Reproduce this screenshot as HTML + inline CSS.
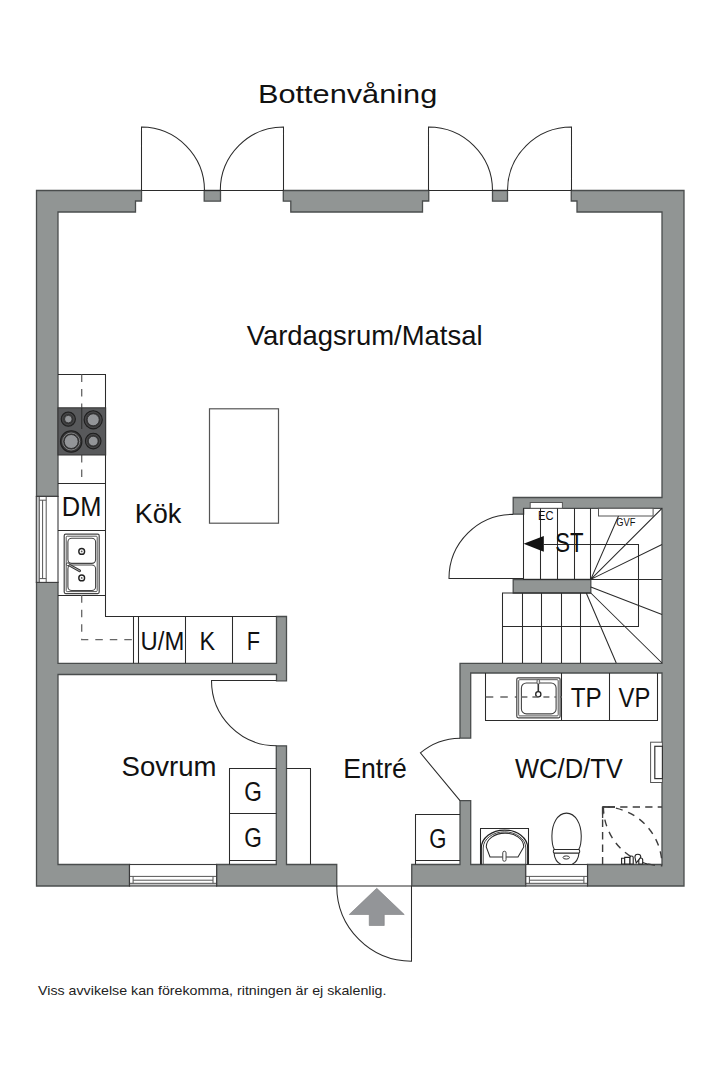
<!DOCTYPE html>
<html><head><meta charset="utf-8">
<style>
html,body{margin:0;padding:0;background:#fff;width:720px;height:1080px;overflow:hidden}
svg{display:block;font-family:"Liberation Sans",sans-serif}
.w{fill:#919594;stroke:#4a4d4d;stroke-width:1.3;stroke-linejoin:miter}
.l{fill:none;stroke:#2b2b2b;stroke-width:1.05}
.lt{fill:none;stroke:#555;stroke-width:1}
.f{fill:#fff;stroke:#3a3a3b;stroke-width:1}
.d{fill:none;stroke:#666;stroke-width:1.3;stroke-dasharray:7.5 7}
.t{fill:#111}
</style></head>
<body>
<svg width="720" height="1080" viewBox="0 0 720 1080">
<!-- TITLE -->
<text class="t" x="257.90" y="102.8" font-size="26.7" textLength="179.40" lengthAdjust="spacingAndGlyphs">Bottenvåning</text>

<!-- WALLS -->
<g id="walls">
<path class="w" d="M36.5,190.5 H141.5 V201 H135.5 V212 H58 V496.3 H36.5 Z"/>
<path class="w" d="M204.2,190.5 H220.5 V201.2 H204.2 Z"/>
<path class="w" d="M283.3,190.5 H428.75 V201 H422.5 V212 H290.8 V201.2 H283.3 Z"/>
<path class="w" d="M492.5,190.5 H507.5 V201.2 H492.5 Z"/>
<path class="w" d="M571.25,190.5 H684 V886 H587.5 V864.5 H662 V673 H470.7 V738.2 H460 V663.3 H662 V508.3 H523.6 V514.2 H513.2 V497.5 H662 V212 H577 V201 H571.25 Z"/>
<path class="w" d="M411.75,864.5 H460 V800.7 H470.7 V864.5 H525.6 V886 H411.75 Z"/>
<path class="w" d="M36.5,582.4 H58 V663.3 H276.5 V616.5 H286.5 V680.8 H276.5 V674.5 H58 V864.5 H129.5 V886 H36.5 Z"/>
<path class="w" d="M216.6,864.5 H276.3 V745.8 H286.5 V864.5 H336.75 V886 H216.6 Z"/>
<path class="w" d="M513.2,579.5 H590.8 V593 H513.2 Z"/>
</g>

<!-- DOORS -->
<g class="l">
<path d="M141.5,190.5 H283.3"/>
<path d="M141.5,190.5 V127 A63.5,63.5 0 0 1 204.5,190.5"/>
<path d="M283.5,190.5 V127 A63.2,63.5 0 0 0 220.3,190.5"/>
<path d="M428.75,190.5 H571.25"/>
<path d="M428.5,190.5 V127 A64,63.5 0 0 1 492.5,190.5"/>
<path d="M571.5,190.5 V127 A64,63.5 0 0 0 507.5,190.5"/>
<path d="M276.5,680.5 H211.5 A65,65.3 0 0 0 276.5,745.8"/>
<path d="M336.75,886 H411.5 V961.25 A74.75,75.25 0 0 1 336.75,886"/>
<path d="M460,800.7 L420.4,752.9 A62.5,62.5 0 0 1 460,738.2"/>
<path d="M523.5,578.5 H449 A64,64 0 0 1 513.2,514.4"/>
</g>

<!-- WINDOWS -->
<g>
<rect x="129.5" y="864.5" width="87.1" height="21.5" fill="#fff"/>
<rect x="129.5" y="883.3" width="87.1" height="2.7" fill="#c4c5c6"/>
<path class="lt" d="M129.5,876.4 H216.6 M129.5,883.3 H216.6 M133.1,876.4 V883.3 M213,876.4 V883.3 M133.1,880.2 H213"/>
<rect x="129.5" y="864.5" width="87.1" height="21.5" fill="none" stroke="#3a3a3b" stroke-width="1.1"/>
<rect x="525.8" y="864.5" width="61.7" height="21.5" fill="#fff"/>
<rect x="525.8" y="883.3" width="61.7" height="2.7" fill="#c4c5c6"/>
<path class="lt" d="M525.8,876.4 H587.5 M525.8,883.3 H587.5 M529.4,876.4 V883.3 M583.9,876.4 V883.3 M529.4,880.2 H583.9"/>
<rect x="525.8" y="864.5" width="61.7" height="21.5" fill="none" stroke="#3a3a3b" stroke-width="1.1"/>
<rect x="36.3" y="496.4" width="21.7" height="86" fill="#fff"/>
<rect x="36.3" y="496.4" width="3" height="86" fill="#c4c5c6"/>
<path class="lt" d="M39.3,496.4 V582.4 M46.2,496.4 V582.4 M39.3,500.2 H46.2 M39.3,578.6 H46.2 M42.6,500.2 V578.6"/>
<rect x="36.3" y="496.4" width="21.7" height="86" fill="none" stroke="#3a3a3b" stroke-width="1.1"/>
</g>

<!-- KITCHEN -->
<g>
<path class="l" d="M58,374.5 H105.5 V616.5 H276.5"/>
<path class="l" d="M58,483.5 H105.5 M58,530.5 H105.5 M58,595.5 H105.5"/>
<path class="l" d="M133.5,616.5 V663.3 M138.5,616.5 V663.3 M185.5,616.5 V663.3 M232.5,616.5 V663.3"/>
<path class="d" d="M81.7,374.4 V407.8 M81.7,455 V483.3 M81.7,595.3 V639.7 H133.3"/>
<rect x="58" y="407.8" width="47.7" height="47.2" fill="#58595b" stroke="#333" stroke-width="1"/>
<g><circle cx="68.3" cy="419.1" r="7.1" fill="#363637" stroke="#1f1f1f" stroke-width="1.1"/><circle cx="68.3" cy="419.1" r="5.699999999999999" fill="none" stroke="#4a4a4b" stroke-width="1"/><circle cx="68.3" cy="419.1" r="3.8" fill="#939598" stroke="#2a2a2a" stroke-width="0.8"/><circle cx="93.2" cy="419.8" r="9.1" fill="#363637" stroke="#1f1f1f" stroke-width="1.1"/><circle cx="93.2" cy="419.8" r="7.8" fill="none" stroke="#4a4a4b" stroke-width="1"/><circle cx="93.2" cy="419.8" r="6.0" fill="#939598" stroke="#2a2a2a" stroke-width="0.8"/><circle cx="71.2" cy="441.5" r="10.7" fill="#363637" stroke="#1f1f1f" stroke-width="1.1"/><circle cx="71.2" cy="441.5" r="8.5" fill="none" stroke="#8a8a8b" stroke-width="0.9"/><circle cx="71.2" cy="441.5" r="7" fill="#939598" stroke="#2a2a2a" stroke-width="0.9"/><circle cx="93.2" cy="441.1" r="7.800000000000001" fill="#363637" stroke="#1f1f1f" stroke-width="1.1"/><circle cx="93.2" cy="441.1" r="6.6000000000000005" fill="none" stroke="#4a4a4b" stroke-width="1"/><circle cx="93.2" cy="441.1" r="4.9" fill="#939598" stroke="#2a2a2a" stroke-width="0.8"/></g>
<!-- sink -->
<rect x="64.2" y="534.2" width="35" height="59.4" rx="1.5" fill="#fff" stroke="#444" stroke-width="1.2"/>
<rect x="66.2" y="536.2" width="31" height="55.4" rx="1" fill="none" stroke="#555" stroke-width="1"/>
<rect x="67.9" y="538.2" width="27.7" height="25.2" rx="3.8" fill="#fff" stroke="#444" stroke-width="1.1"/>
<rect x="67.9" y="565" width="27.7" height="25.5" rx="3.8" fill="#fff" stroke="#444" stroke-width="1.1"/>
<circle cx="81.7" cy="551.4" r="2.9" fill="#fff" stroke="#222" stroke-width="1.4"/>
<circle cx="81.7" cy="551.4" r="0.9" fill="#555"/>
<circle cx="81.7" cy="577.9" r="2.9" fill="#fff" stroke="#222" stroke-width="1.4"/>
<circle cx="81.7" cy="577.9" r="0.9" fill="#555"/>
<path d="M68.5,564.6 L79.6,570.8" stroke="#333" stroke-width="2.8" stroke-linecap="round"/>
<path d="M68.5,564.6 L79.6,570.8" stroke="#aaa" stroke-width="1" stroke-linecap="round"/>
<circle cx="67.9" cy="564.3" r="1.5" fill="#fff" stroke="#333" stroke-width="0.9"/>
<path d="M81.7,407.8 V429" stroke="#333" stroke-width="1.2"/>
<rect x="209.5" y="408.8" width="69" height="114.4" fill="#fff" stroke="#555" stroke-width="1.2"/>
</g>

<!-- BEDROOM / ENTRY furniture -->
<g>
<path class="l" d="M276.3,768.5 H229.5 V864.5 M229.5,813.5 H276.3 M229.5,860.5 H276.3"/>
<path class="l" d="M286.5,768.5 H310.5 V864.5"/>
<path class="l" d="M460,814.5 H415.5 V864.5 M415.5,860.5 H460"/>
</g>

<!-- STAIRS -->
<g>
<rect x="530.2" y="502.5" width="32.2" height="5.8" fill="#fff" stroke="#555" stroke-width="1"/>
<rect x="598.5" y="508.3" width="54.6" height="7.7" fill="#fff" stroke="#555" stroke-width="1"/>
<path class="l" d="M523.5,508.3 V579.5 H662 M540.5,508.3 V579.5 M557.5,508.3 V579.5 M574.5,508.3 V579.5 M590.5,508.3 V579.5"/>
<path class="l" d="M543.8,544.5 H638.5 V626.5 H502.5"/>
<path class="l" d="M590.8,579.4 L662,508.3 M590.8,579.4 L662,544.5 M590.8,579.4 L618.5,516"/>
<path class="l" d="M502.5,663 V593 H590.8 M522.5,593 V663 M541.5,593 V663 M561.5,593 V663 M580.5,593 V663"/>
<path class="l" d="M586.25,593 L616.25,663 M590.8,593 L662,663 M590.8,587 L662,614.5"/>
<path d="M523.6,543.8 L543.8,536 V551.8 Z" fill="#111"/>
</g>

<!-- WC -->
<g>
<path class="l" d="M485.5,673 V720.5 H657.5 V673 M561.5,673 V720.5 M609.5,673 V720.5"/>
<path class="d" d="M485.8,697 H516.8 M560.1,697 H561.9"/>
<rect x="516.8" y="677.8" width="43.3" height="40" rx="1.5" fill="#fff" stroke="#444" stroke-width="1.2"/>
<rect x="518.7" y="679.7" width="39.5" height="36.2" rx="1" fill="none" stroke="#555" stroke-width="1"/>
<rect x="521.4" y="683" width="34.7" height="30.9" rx="5" fill="#fff" stroke="#444" stroke-width="1.1"/>
<path d="M538.3,684 V694" stroke="#333" stroke-width="1.6"/><rect x="537" y="679.5" width="2.6" height="4.5" rx="1.3" fill="#ddd" stroke="#444" stroke-width="0.8"/>
<circle cx="538.3" cy="694.2" r="2.6" fill="#fff" stroke="#222" stroke-width="1.3"/>
<path class="d" d="M521.4,697 H556.1" style="stroke-dasharray:6 5"/>
<!-- radiator -->
<rect x="650.6" y="742.2" width="11.8" height="40.3" fill="#fff" stroke="#555" stroke-width="1"/>
<rect x="654.8" y="746.3" width="7.6" height="32.3" fill="#fff" stroke="#333" stroke-width="1.2"/>
<!-- washbasin -->
<path class="l" d="M480.5,864.4 V828.5 H528.5 V864.4"/>
<path d="M481.3,864.4 V848 A23.2,18 0 0 1 527.7,848 V864.4" fill="none" stroke="#222" stroke-width="1.25"/>
<path d="M483.2,864.4 V848 A21.3,16.2 0 0 1 525.8,848 V864.4" fill="none" stroke="#444" stroke-width="1"/>
<path class="l" d="M486.25,846.9 A18.75,13.8 0 0 1 523.75,846.9 L518,856.9 H490 Z"/>
<rect x="502.75" y="851.25" width="3.3" height="10" rx="1.6" fill="#fff" stroke="#444" stroke-width="1"/>
<!-- toilet -->
<path class="l" d="M566.5,813.1 C575.5,813.1 581.25,824 581.25,836 C581.25,843 580.3,847 578.8,849.4 H554.3 C552.8,847 551.9,843 551.9,836 C551.9,824 557.5,813.1 566.5,813.1 Z"/>
<path class="l" d="M554.3,849.4 C553,850.5 553,852.2 554,853.1 H579 C580,852.2 580,850.5 578.8,849.4 M554,853.1 C554.5,858 557,862.5 561,864.4 H572 C576,862.5 578.5,858 579,853.1"/>
<ellipse cx="566.25" cy="857.5" rx="3.2" ry="1.6" fill="#fff" stroke="#333" stroke-width="1"/>
<!-- shower -->
<path class="d" d="M602.6,864.4 V807 H662" style="stroke:#3d3d3d;stroke-width:1.4;stroke-dasharray:7.3 5.2"/>
<path d="M602.6,818 V807 H615" fill="none" stroke="#3d3d3d" stroke-width="1.3"/>
<path class="d" d="M603,806.7 A59,59 0 0 1 662,864.4" style="stroke:#3d3d3d;stroke-width:1.4;stroke-dasharray:7 6"/>
<path class="d" d="M603.4,806.7 A59,59 0 0 0 662.4,865.7" style="stroke:#3d3d3d;stroke-width:1.4;stroke-dasharray:7 6"/>
<g fill="#fff" stroke="#222" stroke-width="1.1">
<path d="M621.6,864 V858.2 H624.7 V864 Z"/>
<path d="M624.7,864 V857.4 H630 V864 Z"/>
<path d="M630,864 V857.6 A1.6,1.6 0 0 1 633.2,857.6 V864 Z"/>
<path d="M638.8,864 V860 A1.95,2 0 0 1 642.7,860 V864 Z"/>
<path d="M634.9,857 C634.9,854.8 636.2,854.2 637.8,854.2 C639.8,854.2 640.8,855.6 640.8,857 L636.2,863 Z"/>
<path d="M642.7,862.5 L648,864.3" fill="none"/>
</g>
</g>

<path d="M376.75,888.25 L404.25,914.5 H384.25 V925.5 H369.25 V914.5 H349.25 Z" fill="#939598" stroke="#7a7b7d" stroke-width="0.6"/>
<!-- LABELS -->
<g class="t">
<text x="246.70" y="344.7" font-size="27.6" textLength="235.80" lengthAdjust="spacingAndGlyphs">Vardagsrum/Matsal</text>
<text x="134.70" y="522.75" font-size="27.2" textLength="46.75" lengthAdjust="spacingAndGlyphs">Kök</text>
<text x="61.80" y="516.3" font-size="27.3" textLength="39.60" lengthAdjust="spacingAndGlyphs">DM</text>
<text x="140.60" y="649.6" font-size="25.7" textLength="43.70" lengthAdjust="spacingAndGlyphs">U/M</text>
<text x="199.60" y="649.6" font-size="25.7" textLength="15.60" lengthAdjust="spacingAndGlyphs">K</text>
<text x="246.80" y="649.6" font-size="25.7" textLength="13.30" lengthAdjust="spacingAndGlyphs">F</text>
<text x="121.60" y="775.8" font-size="28.3" textLength="94.90" lengthAdjust="spacingAndGlyphs">Sovrum</text>
<text x="244.3" y="801" font-size="27" textLength="17.6" lengthAdjust="spacingAndGlyphs">G</text>
<text x="244.3" y="847.1" font-size="27" textLength="17.6" lengthAdjust="spacingAndGlyphs">G</text>
<text x="429.2" y="847.6" font-size="27" textLength="17.2" lengthAdjust="spacingAndGlyphs">G</text>
<text x="343.20" y="778.1" font-size="27.9" textLength="63.70" lengthAdjust="spacingAndGlyphs">Entré</text>
<text x="515" y="778.4" font-size="28" textLength="107.8" lengthAdjust="spacingAndGlyphs">WC/D/TV</text>
<text x="570.80" y="707.2" font-size="27.3" textLength="31.00" lengthAdjust="spacingAndGlyphs">TP</text>
<text x="618.60" y="707.2" font-size="27.3" textLength="31.70" lengthAdjust="spacingAndGlyphs">VP</text>
<text x="555.3" y="552.3" font-size="27.6" textLength="28.3" lengthAdjust="spacingAndGlyphs">ST</text>
<text x="538" y="519.8" font-size="13" textLength="15.5" lengthAdjust="spacingAndGlyphs">EC</text>
<text x="616.2" y="526.4" font-size="11" textLength="19.2" lengthAdjust="spacingAndGlyphs">GVF</text>
</g>
<text x="38" y="995" font-size="12.9" fill="#222" textLength="348.5" lengthAdjust="spacingAndGlyphs">Viss avvikelse kan förekomma, ritningen är ej skalenlig.</text>
</svg>
</body></html>
